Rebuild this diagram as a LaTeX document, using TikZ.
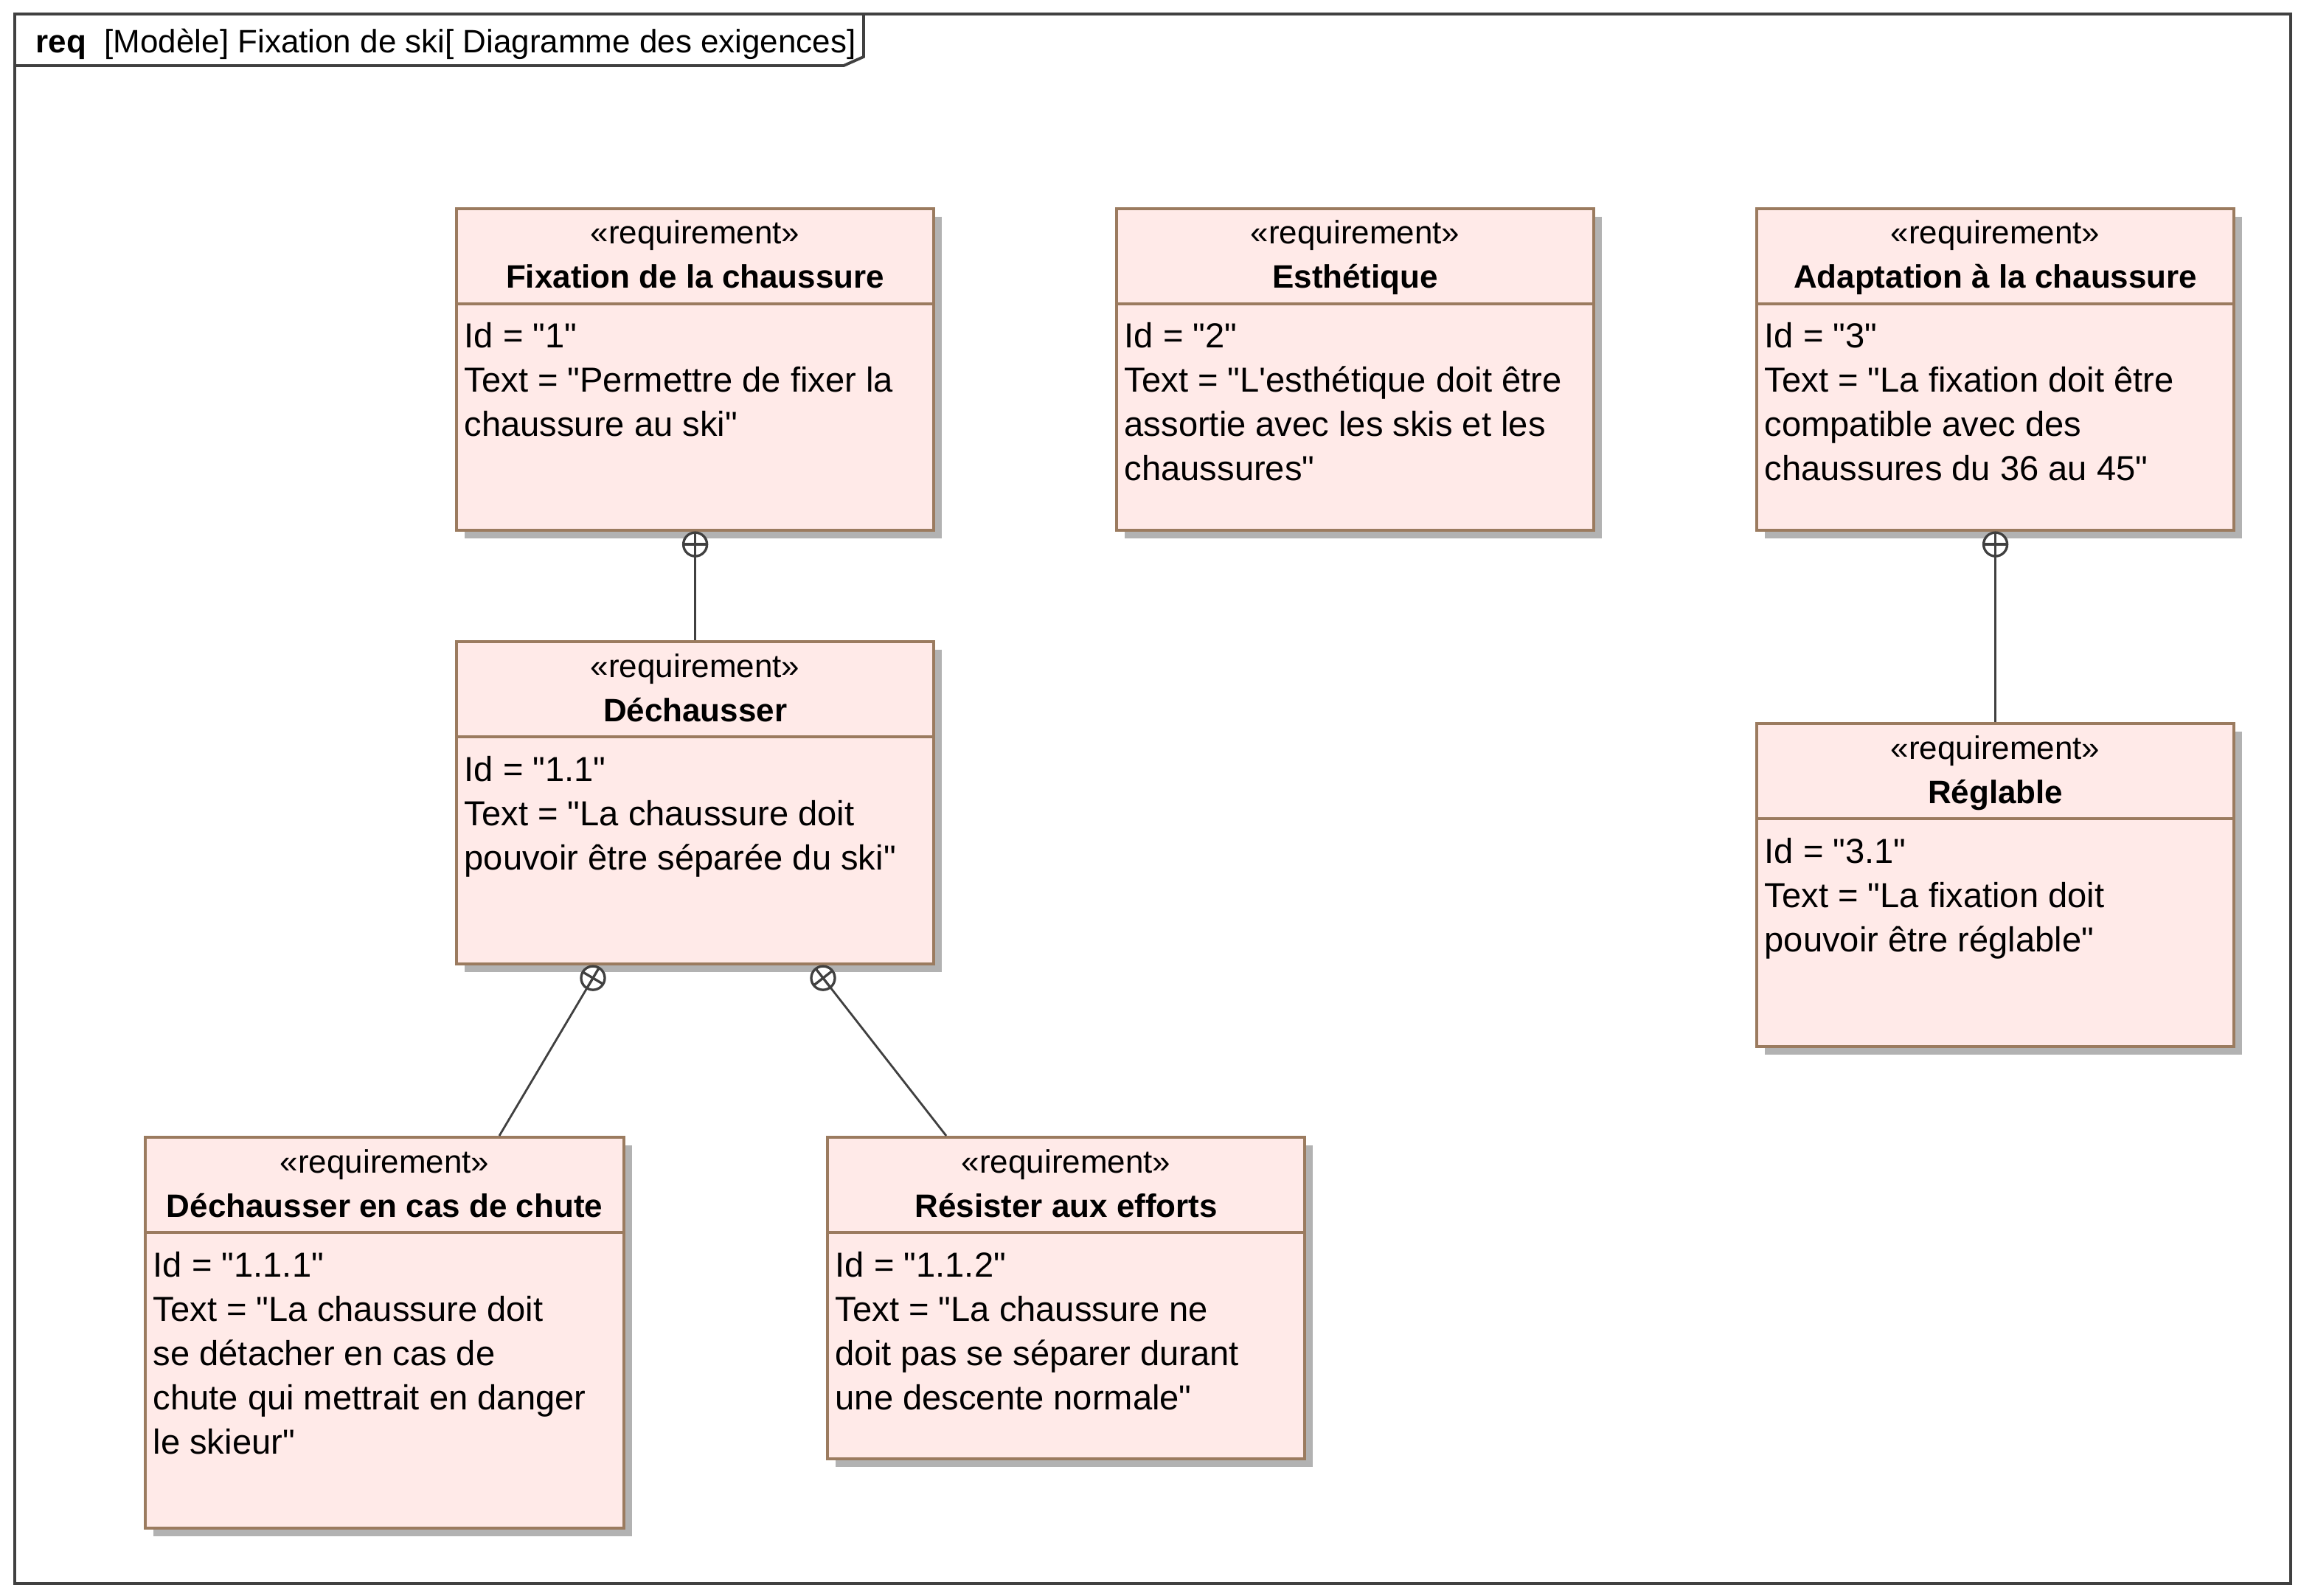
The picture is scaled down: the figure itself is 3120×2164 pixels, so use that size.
\documentclass[tikz,border=0pt]{standalone}
\usepackage{fontspec}
\newfontfamily\uml{Liberation Sans}
\usetikzlibrary{calc,shadows}
\definecolor{reqfill}{RGB}{255,234,232}
\definecolor{reqline}{RGB}{155,123,95}
\definecolor{shadowgray}{RGB}{178,178,178}
\definecolor{darkline}{RGB}{64,64,64}
\tikzset{
 reqnode/.style={draw=reqline, fill=reqfill, line width=1.1pt, rectangle, inner sep=0pt, anchor=north west,
   general shadow={fill=shadowgray, draw=none, shadow xshift=0.11cm, shadow yshift=-0.11cm}},
 sterotxt/.style={font=\uml\fontsize{12.5}{15}\selectfont, inner sep=0pt, anchor=base},
 titletxt/.style={font=\uml\bfseries\fontsize{12.5}{15}\selectfont, inner sep=0pt, anchor=base},
 bodytxt/.style={font=\uml\fontsize{13.4}{17}\selectfont, inner sep=0pt, anchor=base west},
 headtxt/.style={font=\uml\fontsize{12.5}{15}\selectfont, inner sep=0pt, anchor=base west},
 sepline/.style={draw=reqline, line width=1.1pt},
 conn/.style={draw=darkline, line width=0.8pt},
 symline/.style={draw=darkline, line width=0.95pt},
 framestyle/.style={draw=darkline, line width=1.1pt},
}
\newcommand\reqbox[7]{%
 \node[reqnode, minimum width=#4cm, minimum height=#5cm] (#1) at (#2,#3) {};
 \draw[sepline] ($(#1.north west)+(0,-131)$) -- ($(#1.north east)+(0,-131)$);
 \node[sterotxt] (#1-st) at ($(#1.north)+(0,-50)$) {«requirement»};
 \node[titletxt] (#1-ti) at ($(#1.north)+(0,-110)$) {#6};
 \foreach \l [count=\i] in {#7} \node[bodytxt] (#1-l\i) at ($(#1.north west)+(12,{-191-60*(\i-1)})$) {\l};
}
\newcommand\containsym[2]{%
 \draw[symline, fill=white] (#1) circle (0.16cm);
 \draw[symline] let \p1=($(#2)-(#1)$), \n1={atan2(\y1,\x1)} in
   ($(#1)+(\n1:0.16cm)$) -- ($(#1)+(\n1+180:0.16cm)$)
   ($(#1)+(\n1+90:0.16cm)$) -- ($(#1)+(\n1-90:0.16cm)$);
}
\begin{document}
\begin{tikzpicture}[x=0.01cm,y=0.01cm]
\useasboundingbox[fill=white] (0,0) rectangle (3120,-2164);
% frame
\draw[framestyle] (20,-19) rectangle (3106,-2147);
\draw[framestyle] (20,-89) -- (1144,-89) -- (1171,-77) -- (1171,-19);
\node[headtxt] (hreq) at (48,-72) {\bfseries req};
\node[headtxt] (htitle) at (141,-72) {[Modèle] Fixation de ski[ Diagramme des exigences]};
% boxes
\reqbox{b1}{617}{-281}{6.47}{4.36}{Fixation de la chaussure}{{Id = "1"},{Text = "Permettre de fixer la},{chaussure au ski"}}
\reqbox{b2}{1512}{-281}{6.47}{4.36}{Esthétique}{{Id = "2"},{Text = "L'esthétique doit être},{assortie avec les skis et les},{chaussures"}}
\reqbox{b3}{2380}{-281}{6.47}{4.36}{Adaptation à la chaussure}{{Id = "3"},{Text = "La fixation doit être},{compatible avec des},{chaussures du 36 au 45"}}
\reqbox{b4}{617}{-868}{6.47}{4.37}{Déchausser}{{Id = "1.1"},{Text = "La chaussure doit},{pouvoir être séparée du ski"}}
\reqbox{b5}{2380}{-979}{6.47}{4.38}{Réglable}{{Id = "3.1"},{Text = "La fixation doit},{pouvoir être réglable"}}
\reqbox{b6}{195}{-1540}{6.49}{5.30}{Déchausser en cas de chute}{{Id = "1.1.1"},{Text = "La chaussure doit},{se détacher en cas de},{chute qui mettrait en danger},{le skieur"}}
\reqbox{b7}{1120}{-1540}{6.47}{4.36}{Résister aux efforts}{{Id = "1.1.2"},{Text = "La chaussure ne},{doit pas se séparer durant},{une descente normale"}}
% connectors
\coordinate (k14) at ($(b1.south)+(0,-17)$);
\draw[conn] (k14) -- (b4.north);
\containsym{k14}{b4.north}
\coordinate (k35) at ($(b3.south)+(0,-17)$);
\draw[conn] (k35) -- (b5.north);
\containsym{k35}{b5.north}
\coordinate (k46) at ($(b4.south west)+(187,-17)$);
\coordinate (t6) at ($(b6.north west)+(482,0)$);
\draw[conn] (k46) -- (t6);
\containsym{k46}{t6}
\coordinate (k47) at ($(b4.south west)+(499,-17)$);
\coordinate (t7) at ($(b7.north west)+(163,0)$);
\draw[conn] (k47) -- (t7);
\containsym{k47}{t7}
\end{tikzpicture}
\end{document}
